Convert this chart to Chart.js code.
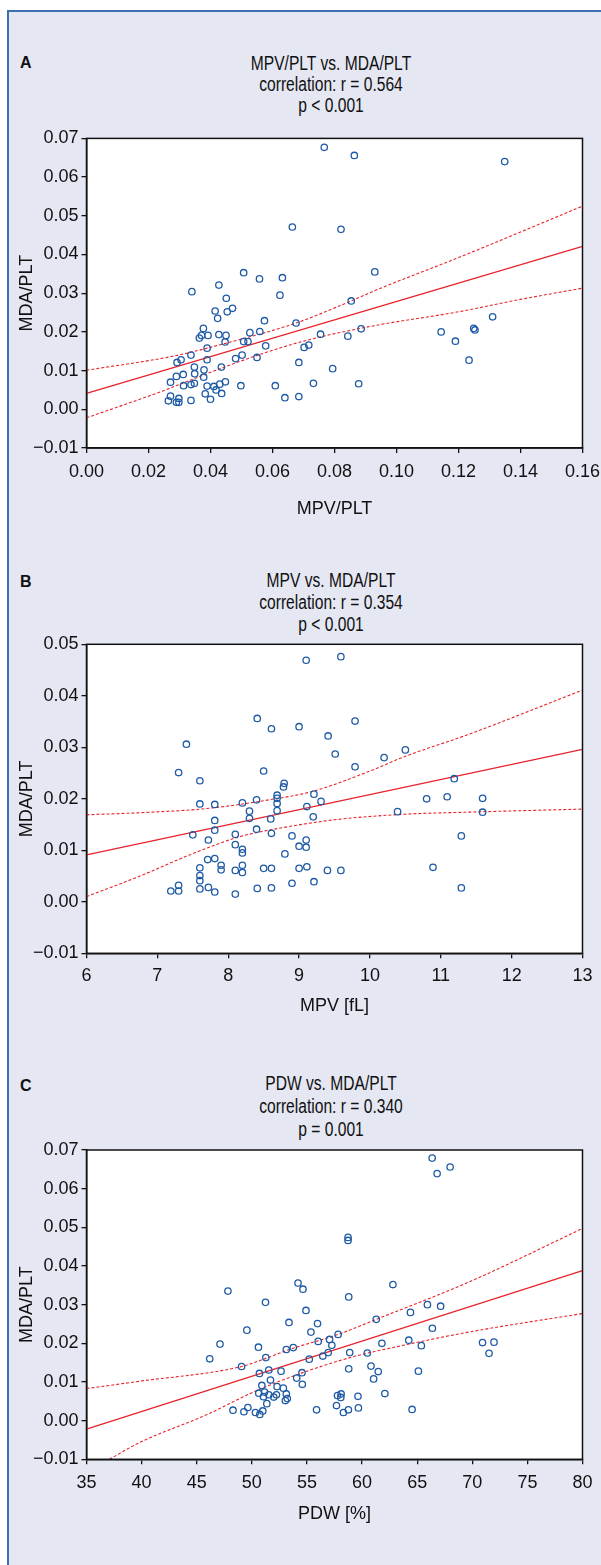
<!DOCTYPE html>
<html lang="en">
<head>
<meta charset="UTF-8">
<title>MDA/PLT correlations</title>
<script src="https://cdn.jsdelivr.net/npm/chart.js"></script>
<style>
  body { margin: 0; width: 601px; height: 1565px; position: relative; overflow: hidden; background: #fff;
         font-family: "Liberation Sans", Arial, sans-serif; color: #111; }
  .frame { position: absolute; left: 7px; top: 10px; right: 0; bottom: 0; background: #e5e7f3;
           border-left: 2px solid #3d6fb6; border-top: 2px solid #3d6fb6; }
  .panel { position: absolute; left: 0; width: 601px; }
  .panel canvas { position: absolute; left: 0; top: 0; }
  .letter { position: absolute; left: 20px; font-weight: bold; font-size: 16px; line-height: 16px; }
  .title { position: absolute; left: 0; width: 662px; text-align: center; font-size: 20px;
           transform: scaleX(0.78); transform-origin: 331px 0; }
</style>
</head>
<body>
<div class="frame"></div>

<div class="letter" style="top:54.5px">A</div>
<div class="title" style="top:52.5px; line-height:21px">MPV/PLT vs. MDA/PLT<br>correlation: r = 0.564<br>p &lt; 0.001</div>
<div class="panel" style="top:0; height:540px"><canvas id="chartA" width="601" height="540"></canvas></div>

<div class="letter" style="top:573.5px">B</div>
<div class="title" style="top:569px; line-height:22px">MPV vs. MDA/PLT<br>correlation: r = 0.354<br>p &lt; 0.001</div>
<div class="panel" style="top:540px; height:500px"><canvas id="chartB" width="601" height="500"></canvas></div>

<div class="letter" style="top:1078px">C</div>
<div class="title" style="top:1072px; line-height:23px">PDW vs. MDA/PLT<br>correlation: r = 0.340<br>p = 0.001</div>
<div class="panel" style="top:1040px; height:525px"><canvas id="chartC" width="601" height="525"></canvas></div>

<script>
// ---- panel A: MPV/PLT vs MDA/PLT ----
const xA = [0.0340, 0.0427, 0.0451, 0.0415, 0.0423, 0.0454, 0.0471, 0.0507, 0.0558, 0.0632, 0.0624, 0.0377,
            0.0371, 0.0364, 0.0392, 0.0427, 0.0450, 0.0447, 0.0389, 0.0337, 0.0292, 0.0305, 0.0389, 0.0348,
            0.0379, 0.0435, 0.0349, 0.0312, 0.0290, 0.0378, 0.0271, 0.0337, 0.0348, 0.0313, 0.0389, 0.0430,
            0.0448, 0.0411, 0.0418, 0.0383, 0.0436, 0.0400, 0.0337, 0.0271, 0.0264, 0.0298, 0.0290, 0.0298,
            0.0481, 0.0502, 0.0507, 0.0521, 0.0527, 0.0559, 0.0574, 0.0550, 0.0578, 0.0498, 0.0609, 0.0640,
            0.0685, 0.0676, 0.0685, 0.0702, 0.0717, 0.0732, 0.0755, 0.0794, 0.0843, 0.0854, 0.0878, 0.0886,
            0.0930, 0.0767, 0.0864, 0.1349, 0.0664, 0.0821, 0.1144, 0.1190, 0.1234, 0.1249, 0.1253, 0.1310];
const yA = [0.0304, 0.0321, 0.0287, 0.0254, 0.0235, 0.0252, 0.0261, 0.0353, 0.0337, 0.0340, 0.0295, 0.0209,
            0.0191, 0.0184, 0.0191, 0.0193, 0.0191, 0.0174, 0.0158, 0.0140, 0.0121, 0.0128, 0.0128, 0.0109,
            0.0102, 0.0109, 0.0092, 0.0090, 0.0085, 0.0083, 0.0070, 0.0064, 0.0067, 0.0061, 0.0060, 0.0065,
            0.0071, 0.0059, 0.0050, 0.0040, 0.0041, 0.0026, 0.0023, 0.0034, 0.0022, 0.0028, 0.0018, 0.0018,
            0.0131, 0.0140, 0.0175, 0.0175, 0.0198, 0.0201, 0.0229, 0.0134, 0.0164, 0.0061, 0.0061, 0.0030,
            0.0033, 0.0223, 0.0121, 0.0160, 0.0166, 0.0067, 0.0194, 0.0105, 0.0189, 0.0280, 0.0066, 0.0208,
            0.0355, 0.0677, 0.0656, 0.0640, 0.0471, 0.0465, 0.0200, 0.0176, 0.0127, 0.0209, 0.0205, 0.0239];
const fitXA = [0, 0.16];
const fitYA = [0.0041, 0.0421];
const upXA = [0, 0.0284, 0.0451, 0.0676, 0.0854, 0.0928, 0.12, 0.14, 0.16];
const upYA = [0.0101, 0.0138, 0.0171, 0.0223, 0.0280, 0.0306, 0.0392, 0.0458, 0.0525];
const loXA = [0, 0.0231, 0.0392, 0.0553, 0.0714, 0.0928, 0.12, 0.14, 0.16];
const loYA = [-0.0022, 0.0043, 0.0093, 0.0140, 0.0179, 0.0216, 0.0252, 0.0284, 0.0313];
const xTicksA = [0, 0.02, 0.04, 0.06, 0.08, 0.10, 0.12, 0.14, 0.16];
const xLabelsA = ['0.00', '0.02', '0.04', '0.06', '0.08', '0.10', '0.12', '0.14', '0.16'];
const yTicksA = [-0.01, 0, 0.01, 0.02, 0.03, 0.04, 0.05, 0.06, 0.07];
const yLabelsA = ['\u22120.01', '0.00', '0.01', '0.02', '0.03', '0.04', '0.05', '0.06', '0.07'];

// ---- panel B: MPV vs MDA/PLT ----
const xB = [9.10, 9.59, 8.41, 8.61, 9.00, 9.79, 9.41, 7.41, 9.51, 10.20, 10.50, 9.79, 7.30, 8.50, 7.60, 8.79,
            8.78, 11.19, 8.69, 8.69, 8.69, 8.69, 9.21, 9.31, 9.11, 9.20, 7.60, 7.81, 8.20, 8.40, 8.30, 8.30,
            8.60, 7.81, 10.80, 11.09, 10.39, 11.59, 11.59, 11.29, 7.50, 7.81, 7.72, 8.10, 8.10, 8.20, 8.20,
            8.40, 8.61, 8.90, 8.80, 9.00, 9.10, 9.10, 7.71, 7.81, 7.90, 7.90, 7.60, 7.60, 7.60, 7.60, 8.10,
            8.20, 8.20, 8.50, 8.61, 9.00, 9.11, 9.40, 9.59, 10.89, 11.29, 7.19, 7.30, 7.30, 7.72, 7.81, 8.10,
            8.41, 8.61, 8.90, 9.21];
const yB = [0.0469, 0.0476, 0.0356, 0.0336, 0.0340, 0.0351, 0.0322, 0.0306, 0.0287, 0.0280, 0.0295, 0.0262,
            0.0251, 0.0254, 0.0235, 0.0230, 0.0223, 0.0239, 0.0207, 0.0201, 0.0191, 0.0177, 0.0209, 0.0195,
            0.0185, 0.0165, 0.0190, 0.0189, 0.0192, 0.0198, 0.0176, 0.0162, 0.0161, 0.0158, 0.0200, 0.0204,
            0.0175, 0.0201, 0.0174, 0.0128, 0.0130, 0.0139, 0.0120, 0.0131, 0.0111, 0.0102, 0.0095, 0.0141,
            0.0133, 0.0128, 0.0093, 0.0108, 0.0120, 0.0106, 0.0082, 0.0084, 0.0071, 0.0062, 0.0066, 0.0051,
            0.0041, 0.0025, 0.0061, 0.0071, 0.0057, 0.0065, 0.0065, 0.0065, 0.0068, 0.0061, 0.0061, 0.0067,
            0.0027, 0.0021, 0.0021, 0.0032, 0.0028, 0.0019, 0.0015, 0.0026, 0.0027, 0.0036, 0.0039];
const fitXB = [6, 13];
const fitYB = [0.0091, 0.0296];
const upXB = [6, 6.755, 7.687, 8.62, 9.18, 10.02, 10.49, 11.37, 13];
const upYB = [0.0169, 0.0173, 0.0181, 0.0199, 0.0214, 0.0255, 0.0282, 0.0324, 0.0411];
const loXB = [6, 6.755, 7.454, 8.154, 8.853, 9.55, 10.485, 11.37, 13];
const loYB = [0.0010, 0.0050, 0.0091, 0.0126, 0.0146, 0.0160, 0.0170, 0.0174, 0.0180];
const xTicksB = [6, 7, 8, 9, 10, 11, 12, 13];
const xLabelsB = ['6', '7', '8', '9', '10', '11', '12', '13'];
const yTicksB = [-0.01, 0, 0.01, 0.02, 0.03, 0.04, 0.05];
const yLabelsB = ['\u22120.01', '0.00', '0.01', '0.02', '0.03', '0.04', '0.05'];

// ---- panel C: PDW vs MDA/PLT ----
const xC = [58.73, 58.73, 54.19, 54.64, 62.80, 47.83, 51.24, 58.79, 54.91, 65.93, 67.13, 64.39, 61.29, 53.37,
            55.96, 66.38, 49.55, 55.36, 57.83, 57.05, 57.26, 56.02, 64.24, 65.38, 61.80, 47.11, 50.60, 53.13,
            53.76, 56.93, 56.44, 58.88, 60.48, 46.18, 51.27, 55.21, 49.07, 51.54, 52.65, 50.69, 54.55, 58.79,
            60.81, 61.47, 65.11, 54.07, 54.58, 61.05, 51.69, 50.91, 52.29, 52.86, 50.63, 51.15, 51.54, 51.99,
            51.06, 52.23, 53.13, 53.22, 53.04, 51.36, 57.77, 58.10, 58.07, 59.63, 62.07, 48.29, 49.28, 49.64,
            50.33, 50.72, 50.99, 55.87, 57.68, 58.31, 58.76, 59.67, 64.54, 70.93, 71.97, 71.52, 66.36, 66.81,
            67.99];
const yC = [0.0474, 0.0466, 0.0356, 0.0340, 0.0352, 0.0335, 0.0306, 0.0320, 0.0285, 0.0300, 0.0296, 0.0280,
            0.0262, 0.0254, 0.0251, 0.0239, 0.0234, 0.0229, 0.0223, 0.0210, 0.0195, 0.0205, 0.0208, 0.0194,
            0.0200, 0.0198, 0.0190, 0.0184, 0.0189, 0.0176, 0.0167, 0.0176, 0.0175, 0.0160, 0.0163, 0.0159,
            0.0140, 0.0131, 0.0128, 0.0122, 0.0124, 0.0134, 0.0141, 0.0127, 0.0128, 0.0110, 0.0094, 0.0108,
            0.0105, 0.0091, 0.0088, 0.0084, 0.0071, 0.0074, 0.0067, 0.0061, 0.0062, 0.0067, 0.0069, 0.0057,
            0.0052, 0.0044, 0.0065, 0.0069, 0.0060, 0.0063, 0.0070, 0.0027, 0.0023, 0.0034, 0.0021, 0.0016,
            0.0025, 0.0028, 0.0039, 0.0021, 0.0028, 0.0033, 0.0029, 0.0202, 0.0203, 0.0174, 0.0679, 0.0639,
            0.0656];
const fitXC = [35, 80];
const fitYC = [-0.0022, 0.0388];
const upXC = [35, 39.86, 49.07, 51.27, 53.40, 57.83, 61.29, 69.66, 80];
const upYC = [0.0083, 0.0102, 0.0140, 0.0161, 0.0184, 0.0223, 0.0262, 0.0358, 0.0497];
const loXC = [37.08, 39.86, 45.88, 50.39, 54.91, 59.43, 63.94, 69.66, 80];
const loYC = [-0.0100, -0.0056, 0.0015, 0.0077, 0.0127, 0.0167, 0.0196, 0.0229, 0.0277];
const xTicksC = [35, 40, 45, 50, 55, 60, 65, 70, 75, 80];
const xLabelsC = ['35', '40', '45', '50', '55', '60', '65', '70', '75', '80'];
const yTicksC = [-0.01, 0, 0.01, 0.02, 0.03, 0.04, 0.05, 0.06, 0.07];
const yLabelsC = ['\u22120.01', '0.00', '0.01', '0.02', '0.03', '0.04', '0.05', '0.06', '0.07'];

const FONT = '"Liberation Sans", Arial, sans-serif';
const BLUE = '#1f5ba5';
const RED = '#e8232b';
const INK = '#111';

const zip = (xs, ys) => xs.map((x, i) => ({ x: x, y: ys[i] }));

// white plot area with a closed black frame
const plotBox = {
  id: 'plotBox',
  beforeDraw(chart) {
    const { ctx, chartArea: a } = chart;
    ctx.save();
    ctx.fillStyle = '#fff';
    ctx.fillRect(a.left, a.top, a.width, a.height);
    ctx.restore();
  },
  afterDraw(chart) {
    const { ctx, chartArea: a } = chart;
    ctx.save();
    ctx.strokeStyle = INK;
    ctx.lineWidth = 1.5;
    ctx.strokeRect(a.left, a.top, a.width, a.height);
    ctx.restore();
  }
};

function axis(ticks, labels, title) {
  return {
    type: 'linear',
    min: ticks[0],
    max: ticks[ticks.length - 1],
    afterBuildTicks: s => { s.ticks = ticks.map(v => ({ value: v })); },
    ticks: {
      callback: (v, i) => labels[i],
      font: { family: FONT, size: 18 },
      color: INK,
      autoSkip: false,
      maxRotation: 0
    },
    grid: { drawOnChartArea: false, tickLength: 5, color: INK, lineWidth: 1.3 },
    border: { color: INK, width: 1.5 },
    title: { display: true, text: title, font: { family: FONT, size: 18 }, color: INK }
  };
}

function makeChart(id, p) {
  const x = axis(p.xTicks, p.xLabels, p.xTitle);
  x.afterFit = s => { s.height = p.xAxisH; s.paddingLeft = 0; s.paddingRight = 0; };
  x.ticks.padding = p.xTickPad;
  x.title.padding = { top: 0, bottom: p.xTitlePad };

  const y = axis(p.yTicks, p.yLabels, 'MDA/PLT');
  y.afterFit = s => { s.width = 86.5; };
  y.ticks.padding = 3;
  y.title.padding = { top: 16, bottom: 0 };

  new Chart(document.getElementById(id), {
    type: 'scatter',
    data: {
      datasets: [
        { data: zip(p.xs, p.ys), pointRadius: 3.2, pointHoverRadius: 3.2, borderWidth: 1.3,
          borderColor: BLUE, backgroundColor: 'rgba(255,255,255,0)' },
        { data: zip(p.fitX, p.fitY), showLine: true, pointRadius: 0, borderColor: RED, borderWidth: 1.3 },
        { data: zip(p.upX, p.upY), showLine: true, pointRadius: 0, borderColor: RED, borderWidth: 1.1,
          borderDash: [3, 2], cubicInterpolationMode: 'monotone' },
        { data: zip(p.loX, p.loY), showLine: true, pointRadius: 0, borderColor: RED, borderWidth: 1.1,
          borderDash: [3, 2], cubicInterpolationMode: 'monotone' }
      ]
    },
    options: {
      responsive: false,
      animation: false,
      devicePixelRatio: 1,
      events: [],
      layout: { padding: { top: p.padTop, right: 18.5, bottom: 0, left: 0 } },
      plugins: { legend: { display: false }, tooltip: { enabled: false }, title: { display: false } },
      scales: { x: x, y: y }
    },
    plugins: [plotBox]
  });
}

makeChart('chartA', {
  xs: xA, ys: yA, fitX: fitXA, fitY: fitYA, upX: upXA, upY: upYA, loX: loXA, loY: loYA,
  xTicks: xTicksA, xLabels: xLabelsA, yTicks: yTicksA, yLabels: yLabelsA, xTitle: 'MPV/PLT',
  padTop: 138.4, xAxisH: 92, xTickPad: 8.5, xTitlePad: 20
});
makeChart('chartB', {
  xs: xB, ys: yB, fitX: fitXB, fitY: fitYB, upX: upXB, upY: upYB, loX: loXB, loY: loYB,
  xTicks: xTicksB, xLabels: xLabelsB, yTicks: yTicksB, yLabels: yLabelsB, xTitle: 'MPV [fL]',
  padTop: 104.3, xAxisH: 86.7, xTickPad: 7, xTitlePad: 23.5
});
makeChart('chartC', {
  xs: xC, ys: yC, fitX: fitXC, fitY: fitYC, upX: upXC, upY: upYC, loX: loXC, loY: loYC,
  xTicks: xTicksC, xLabels: xLabelsC, yTicks: yTicksC, yLabels: yLabelsC, xTitle: 'PDW [%]',
  padTop: 110, xAxisH: 105.7, xTickPad: 8, xTitlePad: 40.5
});
</script>
</body>
</html>
